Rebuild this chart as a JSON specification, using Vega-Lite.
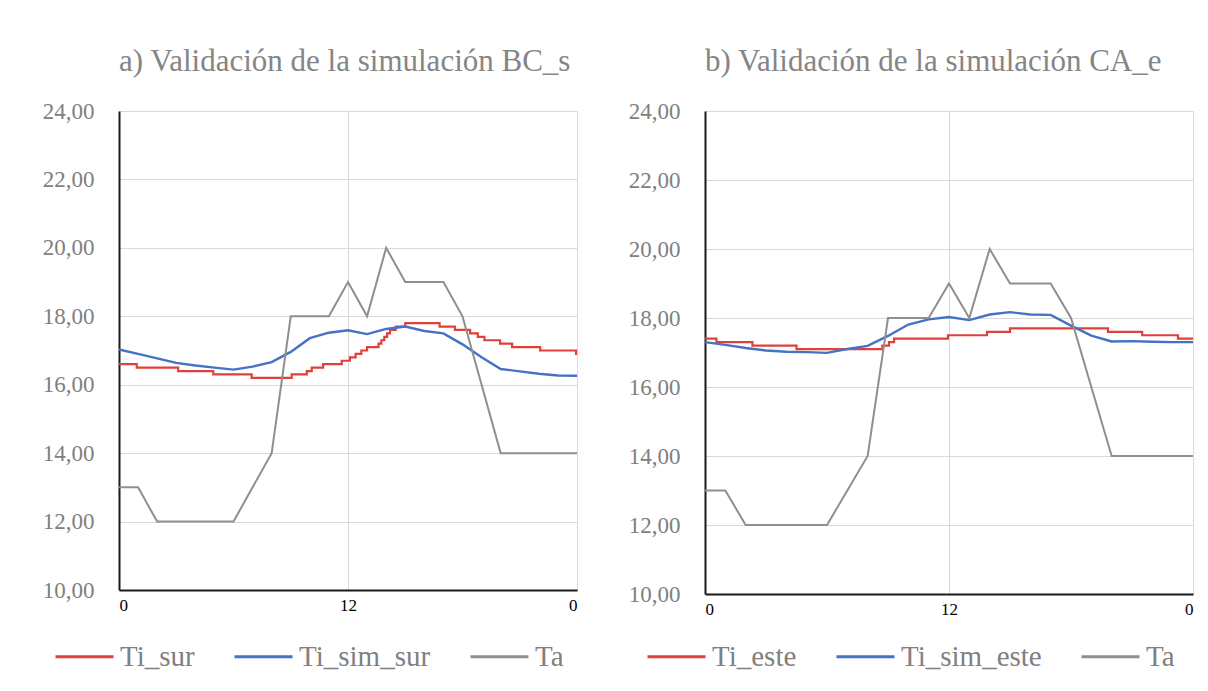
{
  "$schema": "https://vega.github.io/schema/vega-lite/v6.json",
  "background": "white",
  "padding": {"left": 42, "top": 46, "right": 5, "bottom": 5},
  "spacing": 128,
  "bounds": "flush",
  "config": {
    "view": {"stroke": null},
    "font": "Liberation Serif",
    "axis": {"gridColor": "#d9d9d9", "gridWidth": 1, "domainColor": "#1a1a1a", "domainWidth": 2, "ticks": false, "tickSize": 0, "labelFont": "Liberation Serif"},
    "legend": {"labelFont": "Liberation Serif"},
    "title": {"font": "Liberation Serif"}
  },
  "datasets": {
    "ta": [
      {"h": 0, "v": 13, "s": "Ta"}, {"h": 1, "v": 13, "s": "Ta"}, {"h": 2, "v": 12, "s": "Ta"}, {"h": 3, "v": 12, "s": "Ta"},
      {"h": 4, "v": 12, "s": "Ta"}, {"h": 5, "v": 12, "s": "Ta"}, {"h": 6, "v": 12, "s": "Ta"}, {"h": 7, "v": 13, "s": "Ta"},
      {"h": 8, "v": 14, "s": "Ta"}, {"h": 9, "v": 18, "s": "Ta"}, {"h": 10, "v": 18, "s": "Ta"}, {"h": 11, "v": 18, "s": "Ta"},
      {"h": 12, "v": 19, "s": "Ta"}, {"h": 13, "v": 18, "s": "Ta"}, {"h": 14, "v": 20, "s": "Ta"}, {"h": 15, "v": 19, "s": "Ta"},
      {"h": 16, "v": 19, "s": "Ta"}, {"h": 17, "v": 19, "s": "Ta"}, {"h": 18, "v": 18, "s": "Ta"}, {"h": 19, "v": 16, "s": "Ta"},
      {"h": 20, "v": 14, "s": "Ta"}, {"h": 21, "v": 14, "s": "Ta"}, {"h": 22, "v": 14, "s": "Ta"}, {"h": 23, "v": 14, "s": "Ta"},
      {"h": 24, "v": 14, "s": "Ta"}
    ],
    "a_sim": [
      {"h": 0, "v": 17.03, "s": "Ti_sim_sur"}, {"h": 1, "v": 16.9, "s": "Ti_sim_sur"}, {"h": 2, "v": 16.77, "s": "Ti_sim_sur"},
      {"h": 3, "v": 16.64, "s": "Ti_sim_sur"}, {"h": 4, "v": 16.56, "s": "Ti_sim_sur"}, {"h": 5, "v": 16.5, "s": "Ti_sim_sur"},
      {"h": 6, "v": 16.44, "s": "Ti_sim_sur"}, {"h": 7, "v": 16.53, "s": "Ti_sim_sur"}, {"h": 8, "v": 16.66, "s": "Ti_sim_sur"},
      {"h": 9, "v": 16.96, "s": "Ti_sim_sur"}, {"h": 10, "v": 17.36, "s": "Ti_sim_sur"}, {"h": 11, "v": 17.52, "s": "Ti_sim_sur"},
      {"h": 12, "v": 17.59, "s": "Ti_sim_sur"}, {"h": 13, "v": 17.48, "s": "Ti_sim_sur"}, {"h": 14, "v": 17.63, "s": "Ti_sim_sur"},
      {"h": 15, "v": 17.7, "s": "Ti_sim_sur"}, {"h": 16, "v": 17.57, "s": "Ti_sim_sur"}, {"h": 17, "v": 17.5, "s": "Ti_sim_sur"},
      {"h": 18, "v": 17.18, "s": "Ti_sim_sur"}, {"h": 19, "v": 16.8, "s": "Ti_sim_sur"}, {"h": 20, "v": 16.46, "s": "Ti_sim_sur"},
      {"h": 21, "v": 16.39, "s": "Ti_sim_sur"}, {"h": 22, "v": 16.32, "s": "Ti_sim_sur"}, {"h": 23, "v": 16.27, "s": "Ti_sim_sur"},
      {"h": 24, "v": 16.26, "s": "Ti_sim_sur"}
    ],
    "a_ti": [
      {"h": 0, "v": 16.6, "s": "Ti_sur"}, {"h": 0.93, "v": 16.5, "s": "Ti_sur"}, {"h": 3.1, "v": 16.4, "s": "Ti_sur"},
      {"h": 4.94, "v": 16.3, "s": "Ti_sur"}, {"h": 6.95, "v": 16.2, "s": "Ti_sur"}, {"h": 9.05, "v": 16.3, "s": "Ti_sur"},
      {"h": 9.84, "v": 16.4, "s": "Ti_sur"}, {"h": 10.1, "v": 16.5, "s": "Ti_sur"}, {"h": 10.7, "v": 16.6, "s": "Ti_sur"},
      {"h": 11.67, "v": 16.7, "s": "Ti_sur"}, {"h": 12.1, "v": 16.8, "s": "Ti_sur"}, {"h": 12.4, "v": 16.9, "s": "Ti_sur"},
      {"h": 12.7, "v": 17.0, "s": "Ti_sur"}, {"h": 13.0, "v": 17.1, "s": "Ti_sur"}, {"h": 13.6, "v": 17.2, "s": "Ti_sur"},
      {"h": 13.75, "v": 17.3, "s": "Ti_sur"}, {"h": 13.9, "v": 17.4, "s": "Ti_sur"}, {"h": 14.05, "v": 17.5, "s": "Ti_sur"},
      {"h": 14.2, "v": 17.6, "s": "Ti_sur"}, {"h": 14.5, "v": 17.7, "s": "Ti_sur"}, {"h": 15.0, "v": 17.8, "s": "Ti_sur"},
      {"h": 16.8, "v": 17.7, "s": "Ti_sur"}, {"h": 17.6, "v": 17.6, "s": "Ti_sur"}, {"h": 18.4, "v": 17.5, "s": "Ti_sur"},
      {"h": 18.8, "v": 17.4, "s": "Ti_sur"}, {"h": 19.15, "v": 17.3, "s": "Ti_sur"}, {"h": 19.97, "v": 17.2, "s": "Ti_sur"},
      {"h": 20.6, "v": 17.1, "s": "Ti_sur"}, {"h": 22.07, "v": 17.0, "s": "Ti_sur"}, {"h": 23.95, "v": 16.9, "s": "Ti_sur"},
      {"h": 24, "v": 16.9, "s": "Ti_sur"}
    ],
    "b_sim": [
      {"h": 0, "v": 17.3, "s": "Ti_sim_este"}, {"h": 1, "v": 17.22, "s": "Ti_sim_este"}, {"h": 2, "v": 17.13, "s": "Ti_sim_este"},
      {"h": 3, "v": 17.06, "s": "Ti_sim_este"}, {"h": 4, "v": 17.02, "s": "Ti_sim_este"}, {"h": 5, "v": 17.01, "s": "Ti_sim_este"},
      {"h": 6, "v": 16.99, "s": "Ti_sim_este"}, {"h": 7, "v": 17.1, "s": "Ti_sim_este"}, {"h": 8, "v": 17.19, "s": "Ti_sim_este"},
      {"h": 9, "v": 17.48, "s": "Ti_sim_este"}, {"h": 10, "v": 17.81, "s": "Ti_sim_este"}, {"h": 11, "v": 17.96, "s": "Ti_sim_este"},
      {"h": 12, "v": 18.03, "s": "Ti_sim_este"}, {"h": 13, "v": 17.94, "s": "Ti_sim_este"}, {"h": 14, "v": 18.1, "s": "Ti_sim_este"},
      {"h": 15, "v": 18.17, "s": "Ti_sim_este"}, {"h": 16, "v": 18.1, "s": "Ti_sim_este"}, {"h": 17, "v": 18.09, "s": "Ti_sim_este"},
      {"h": 18, "v": 17.78, "s": "Ti_sim_este"}, {"h": 19, "v": 17.49, "s": "Ti_sim_este"}, {"h": 20, "v": 17.32, "s": "Ti_sim_este"},
      {"h": 21, "v": 17.33, "s": "Ti_sim_este"}, {"h": 22, "v": 17.31, "s": "Ti_sim_este"}, {"h": 23, "v": 17.3, "s": "Ti_sim_este"},
      {"h": 24, "v": 17.3, "s": "Ti_sim_este"}
    ],
    "b_ti": [
      {"h": 0, "v": 17.4, "s": "Ti_este"}, {"h": 0.56, "v": 17.3, "s": "Ti_este"}, {"h": 2.33, "v": 17.2, "s": "Ti_este"},
      {"h": 4.5, "v": 17.1, "s": "Ti_este"}, {"h": 8.72, "v": 17.2, "s": "Ti_este"}, {"h": 9.05, "v": 17.3, "s": "Ti_este"},
      {"h": 9.3, "v": 17.4, "s": "Ti_este"}, {"h": 11.95, "v": 17.5, "s": "Ti_este"}, {"h": 13.87, "v": 17.6, "s": "Ti_este"},
      {"h": 15.0, "v": 17.7, "s": "Ti_este"}, {"h": 19.82, "v": 17.6, "s": "Ti_este"}, {"h": 21.5, "v": 17.5, "s": "Ti_este"},
      {"h": 23.26, "v": 17.4, "s": "Ti_este"}, {"h": 24, "v": 17.4, "s": "Ti_este"}
    ]
  },
  "resolve": {"scale": {"color": "independent", "x": "independent", "y": "independent"}, "legend": {"color": "independent"}},
  "hconcat": [
    {
      "width": 458,
      "height": 479,
      "title": {"text": "a) Validación de la simulación BC_s", "anchor": "start", "frame": "group", "fontSize": 31, "fontWeight": "normal", "color": "#858585", "baseline": "alphabetic", "offset": -2},
      "encoding": {
        "x": {"field": "h", "type": "quantitative", "scale": {"domain": [0, 24], "nice": false},
          "axis": {"values": [0, 12, 24], "labelExpr": "datum.value == 24 ? '0' : datum.label", "title": null, "labelColor": "#000000", "labelFontSize": 17, "labelPadding": 7, "grid": true}},
        "y": {"field": "v", "type": "quantitative", "scale": {"domain": [10, 24], "nice": false, "zero": false},
          "axis": {"values": [10, 12, 14, 16, 18, 20, 22, 24], "labelExpr": "replace(format(datum.value, '.2f'), '.', ',')", "title": null, "labelColor": "#808080", "labelFontSize": 23, "labelPadding": 25, "grid": true}},
        "color": {"field": "s", "type": "nominal",
          "scale": {"domain": ["Ti_sur", "Ti_sim_sur", "Ta"], "range": ["#e0403a", "#4472c4", "#8f8f8f"]},
          "legend": {"title": null, "orient": "none", "legendX": -65, "legendY": 515, "direction": "horizontal", "columns": 3, "symbolType": "stroke", "symbolSize": 3364, "symbolStrokeWidth": 3, "labelFontSize": 29, "labelColor": "#808080", "labelOffset": 5, "columnPadding": 33, "labelLimit": 400}}
      },
      "layer": [
        {"data": {"name": "a_ti"}, "mark": {"type": "line", "interpolate": "step-after", "strokeWidth": 2.2}},
        {"data": {"name": "a_sim"}, "mark": {"type": "line", "strokeWidth": 2.4}},
        {"data": {"name": "ta"}, "mark": {"type": "line", "strokeWidth": 2}}
      ]
    },
    {
      "width": 488,
      "height": 483,
      "title": {"text": "b) Validación de la simulación CA_e", "anchor": "start", "frame": "group", "fontSize": 31, "fontWeight": "normal", "color": "#858585", "baseline": "alphabetic", "offset": -2},
      "encoding": {
        "x": {"field": "h", "type": "quantitative", "scale": {"domain": [0, 24], "nice": false},
          "axis": {"values": [0, 12, 24], "labelExpr": "datum.value == 24 ? '0' : datum.label", "title": null, "labelColor": "#000000", "labelFontSize": 17, "labelPadding": 7, "grid": true}},
        "y": {"field": "v", "type": "quantitative", "scale": {"domain": [10, 24], "nice": false, "zero": false},
          "axis": {"values": [10, 12, 14, 16, 18, 20, 22, 24], "labelExpr": "replace(format(datum.value, '.2f'), '.', ',')", "title": null, "labelColor": "#808080", "labelFontSize": 23, "labelPadding": 25, "grid": true}},
        "color": {"field": "s", "type": "nominal",
          "scale": {"domain": ["Ti_este", "Ti_sim_este", "Ta"], "range": ["#e0403a", "#4472c4", "#8f8f8f"]},
          "legend": {"title": null, "orient": "none", "legendX": -59, "legendY": 515, "direction": "horizontal", "columns": 3, "symbolType": "stroke", "symbolSize": 3364, "symbolStrokeWidth": 3, "labelFontSize": 29, "labelColor": "#808080", "labelOffset": 5, "columnPadding": 33, "labelLimit": 400}}
      },
      "layer": [
        {"data": {"name": "b_ti"}, "mark": {"type": "line", "interpolate": "step-after", "strokeWidth": 2.2}},
        {"data": {"name": "b_sim"}, "mark": {"type": "line", "strokeWidth": 2.4}},
        {"data": {"name": "ta"}, "mark": {"type": "line", "strokeWidth": 2}}
      ]
    }
  ]
}
